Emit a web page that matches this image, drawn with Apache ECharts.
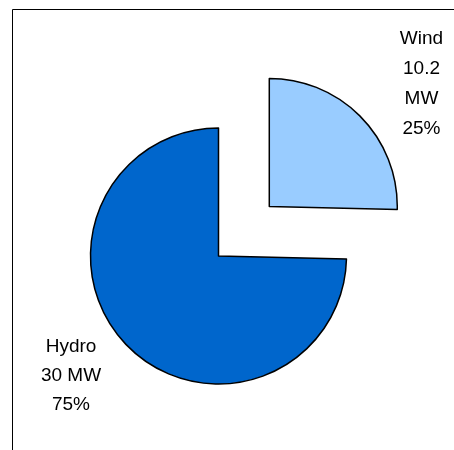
<!DOCTYPE html>
<html>
<head>
<meta charset="utf-8">
<style>
  html, body { margin: 0; padding: 0; background: #ffffff; }
  #chart { width: 454px; height: 450px; }
</style>
<script src="https://cdn.jsdelivr.net/npm/echarts@6/dist/echarts.min.js"></script>
</head>
<body>
<div id="chart"></div>
<script>
// Installed capacity by source (MW)
const sources = ['Wind', 'Hydro'];
const capacityMW = [10.2, 30];
const sliceColors = ['#99CCFF', '#0066CC'];
const explodedSource = 'Wind';

// Label block placement per source (centre x, top y, line height)
const labelBoxes = {
  Wind: { x: 421.5, y: 23.5, lh: 30 },
  Hydro: { x: 71, y: 332, lh: 29 }
};

const total = capacityMW.reduce((s, v) => s + v, 0);

function labelLines(name, value) {
  const pct = Math.round(value / total * 100) + '%';
  if (name === 'Wind') {
    return [name, String(value), 'MW', pct];
  }
  return [name, value + ' MW', pct];
}

const chart = echarts.init(document.getElementById('chart'), null, { renderer: 'canvas' });

const pieData = sources.map((name, i) => ({
  name: name,
  value: capacityMW[i],
  selected: name === explodedSource,
  itemStyle: { color: sliceColors[i] }
}));

const labelGraphics = sources.map((name, i) => {
  const b = labelBoxes[name];
  return {
    type: 'text',
    x: b.x,
    y: b.y,
    silent: true,
    style: {
      text: labelLines(name, capacityMW[i]).join('\n'),
      fill: '#000000',
      font: '19px "Liberation Sans", Arial, sans-serif',
      lineHeight: b.lh,
      align: 'center',
      verticalAlign: 'top'
    }
  };
});

chart.setOption({
  backgroundColor: '#ffffff',
  animation: false,
  graphic: [{
    type: 'polyline',
    shape: { points: [[12.5, 450], [12.5, 9.5], [454, 9.5]] },
    style: { stroke: '#000000', lineWidth: 1, fill: null },
    silent: true
  }].concat(labelGraphics),
  series: [{
    type: 'pie',
    center: [218.5, 256],
    radius: [0, 128],
    startAngle: 90,
    clockwise: true,
    selectedMode: 'single',
    selectedOffset: 71,
    emphasis: { disabled: true },
    itemStyle: { borderColor: '#000000', borderWidth: 1.5 },
    label: { show: false },
    labelLine: { show: false },
    data: pieData
  }]
});
</script>
</body>
</html>
